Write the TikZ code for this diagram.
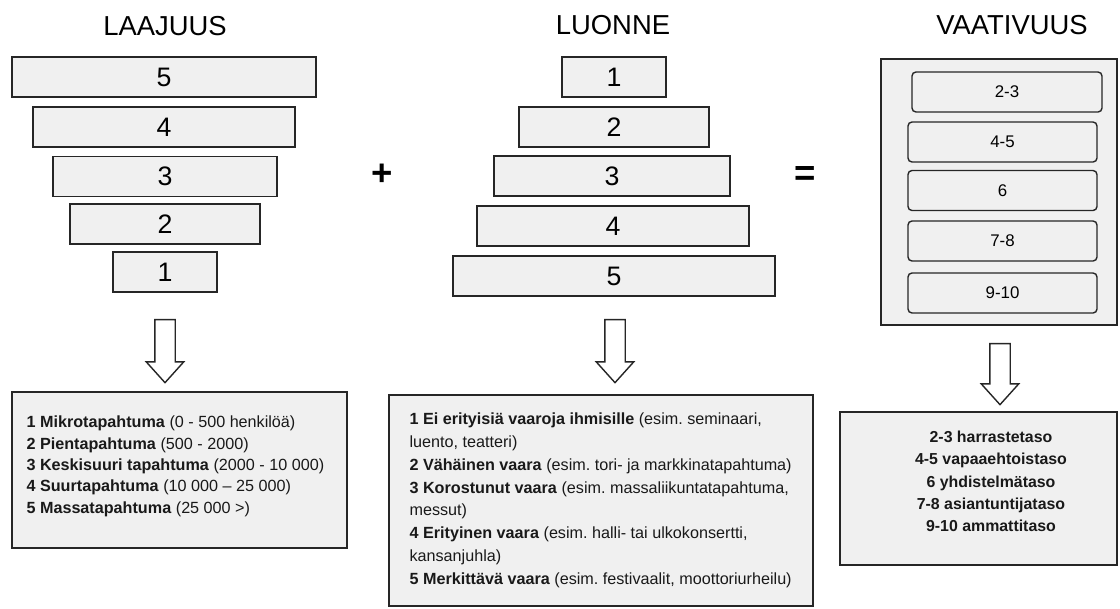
\documentclass[tikz,border=0pt]{standalone}
\usepackage{fontspec}
\setmainfont{Liberation Sans}
\usepackage{tikz}
\usetikzlibrary{shapes.arrows}

\newcommand{\pxl}{0.025cm}

\begin{document}
\frenchspacing
\begin{tikzpicture}[x=0.025cm, y=-0.025cm,
    title/.style={font=\fontsize{19.5}{20}\selectfont},
    barbox/.style={draw=black!85, line width=1pt, fill=gray!12, minimum height=40*\pxl, inner sep=0pt, font=\fontsize{19}{19}\selectfont},
    classbox/.style={draw=black!85, line width=1pt, fill=gray!12, rounded corners=0.1cm, minimum height=40*\pxl, minimum width=189*\pxl, inner sep=0pt, font=\fontsize{12}{12}\selectfont},
    infobox/.style={draw=black!85, line width=1pt, fill=gray!12, inner sep=0pt},
    infotext/.style={inner sep=0pt, text=black!90},
    downarrow/.style={single arrow, draw=black!85, line width=1pt, fill=white, shape border rotate=270, minimum height=63*\pxl, minimum width=36*\pxl, single arrow head extend=8.5*\pxl, single arrow tip angle=84, inner sep=9.5*\pxl},
    sign/.style={font=\fontsize{26}{26}\selectfont\bfseries, inner sep=0pt}]

    \useasboundingbox (0,0) rectangle (1120,608);

    % laajuus
    \node[title] (laajuus) at (165,26) {LAAJUUS};
    \node[barbox, minimum width=304*\pxl] (l5) at (164,77) {5};
    \node[barbox, minimum width=262*\pxl] (l4) at (164,127) {4};
    \node[barbox, minimum width=224*\pxl] (l3) at (165,176.5) {3};
    \node[barbox, minimum width=190*\pxl] (l2) at (165,224) {2};
    \node[barbox, minimum width=104*\pxl] (l1) at (165,272) {1};
    \node[downarrow] (ldown) at (165,345.5) {};

    \node[sign] (plus) at (382,175) {+};

    % luonne
    \node[title] (luonne) at (613,25) {LUONNE};
    \node[barbox, minimum width=104*\pxl] (m1) at (614,77) {1};
    \node[barbox, minimum width=190*\pxl] (m2) at (614,127) {2};
    \node[barbox, minimum width=236*\pxl] (m3) at (612,176) {3};
    \node[barbox, minimum width=272*\pxl] (m4) at (613,226) {4};
    \node[barbox, minimum width=322*\pxl] (m5) at (614,276) {5};
    \node[downarrow] (mdown) at (615,345.5) {};

    \node[sign] (equals) at (805,176) {=};

    % vaativuus
    \node[title] (vaativuus) at (1012,25) {VAATIVUUS};
    \node[infobox, minimum width=236*\pxl, minimum height=266*\pxl] (panel) at (999,192) {};
    \node[classbox, minimum width=190*\pxl] (v23) at (1007,92) {2-3};
    \node[classbox] (v45) at (1002.5,142) {4-5};
    \node[classbox] (v6) at (1002.5,190.5) {6};
    \node[classbox] (v78) at (1002.5,241) {7-8};
    \node[classbox] (v910) at (1002.5,293) {9-10};
    \node[downarrow, minimum height=61*\pxl] (vdown) at (1000,368.5) {};

    % selitteet
    \node[infobox, minimum width=335*\pxl, minimum height=156*\pxl] (sizebox) at (179.5,470) {};
    \node[infotext, anchor=north west, align=left, font=\fontsize{11.5}{15.2}\selectfont] (sizetext)
        at ([shift={(15,24.5)}]sizebox.north west)
        {\textbf{1 Mikrotapahtuma} (0 - 500 henkilöä)\\
         \textbf{2 Pientapahtuma} (500 - 2000)\\
         \textbf{3 Keskisuuri tapahtuma} (2000 - 10 000)\\
         \textbf{4 Suurtapahtuma} (10 000 – 25 000)\\
         \textbf{5 Massatapahtuma} (25 000 >)};

    \node[infobox, minimum width=424*\pxl, minimum height=211*\pxl] (typebox) at (601,500.5) {};
    \node[infotext, anchor=north west, align=left, font=\fontsize{11.5}{16.3}\selectfont] (typetext)
        at ([shift={(21,18)}]typebox.north west)
        {\textbf{1 Ei erityisiä vaaroja ihmisille} (esim. seminaari,\\
         luento, teatteri)\\
         \textbf{2 Vähäinen vaara} (esim. tori- ja markkinatapahtuma)\\
         \textbf{3 Korostunut vaara} (esim. massaliikuntatapahtuma,\\
         messut)\\
         \textbf{4 Erityinen vaara} (esim. halli- tai ulkokonsertti,\\
         kansanjuhla)\\
         \textbf{5 Merkittävä vaara} (esim. festivaalit, moottoriurheilu)};

    \node[infobox, minimum width=277*\pxl, minimum height=153*\pxl] (levelbox) at (978.5,488.5) {};
    \node[infotext, anchor=north, align=center, font=\fontsize{11.3}{15.8}\selectfont\bfseries] (leveltext)
        at ([shift={(12.5,19.5)}]levelbox.north)
        {2-3 harrastetaso\\
         4-5 vapaaehtoistaso\\
         6 yhdistelmätaso\\
         7-8 asiantuntijataso\\
         9-10 ammattitaso};
\end{tikzpicture}
\end{document}
